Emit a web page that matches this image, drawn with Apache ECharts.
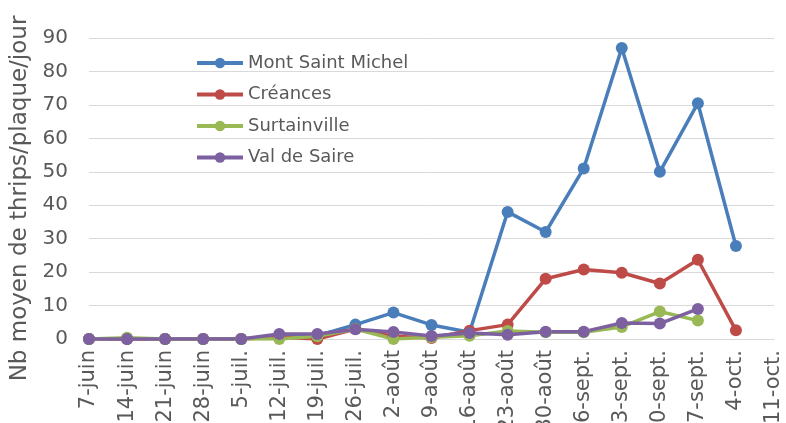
<!DOCTYPE html>
<html><head><meta charset="utf-8">
<script src="https://cdn.jsdelivr.net/npm/echarts@6/dist/echarts.min.js"></script>
<style>html,body{margin:0;padding:0;background:#fff}#c{width:786px;height:423px}</style>
</head><body><div id="c"></div>
<script>
const categories = ['7-juin','14-juin','21-juin','28-juin','5-juil.','12-juil.','19-juil.','26-juil.','2-août','9-août','16-août','23-août','30-août','6-sept.','13-sept.','20-sept.','27-sept.','4-oct.','11-oct.'];
const montSaintMichel = [0,0,0,0,0,1,1,4.3,7.9,4.2,2,38,32,51,87,50,70.5,27.8,null];
const creances = [0,0,0,0,0,0.5,0,3,0.8,0.3,2.5,4.3,18,20.8,19.8,16.6,23.7,2.6,null];
const surtainville = [0,0.4,0,0,0,0,0.8,3,0,0.5,1,2.4,2,2,3.6,8.2,5.5,null,null];
const valDeSaire = [0,0,0,0,0,1.5,1.5,2.9,2.1,0.9,1.8,1.3,2.2,2.2,4.8,4.6,9,null,null];
const yTicks = {min:0, max:90, interval:10};

const colors = ['#4A7EBB','#BE4B48','#98B954','#7D60A0'];
const names = ['Mont Saint Michel','Créances','Surtainville','Val de Saire'];
const datas = [montSaintMichel, creances, surtainville, valDeSaire];
const txt = '#595959';
const font = 'DejaVu Sans';

const chart = echarts.init(document.getElementById('c'));
chart.setOption({
  animation:false,
  color: colors,
  textStyle:{fontFamily:font},
  grid:{left:89, right:12, top:38, bottom:84, containLabel:false, outerBoundsMode:'none'},
  legend:{
    orient:'vertical', left:190, top:49,
    itemWidth:46, itemHeight:13, itemGap:13.5,
    lineStyle:{width:4},
    textStyle:{color:txt, fontSize:18, fontFamily:font},
    data:names
  },
  xAxis:{
    type:'category', data:categories, boundaryGap:false,
    axisLine:{show:true, lineStyle:{color:'#d9d9d9', width:1}},
    axisTick:{show:false},
    axisLabel:{rotate:90, color:txt, fontSize:21, fontFamily:font, margin:11, interval:0},
    splitLine:{show:false}
  },
  yAxis:{
    type:'value', min:yTicks.min, max:yTicks.max, interval:yTicks.interval,
    name:'Nb moyen de thrips/plaque/jour', nameLocation:'middle', nameGap:57,
    nameTextStyle:{color:txt, fontSize:23, fontFamily:font, padding:[0,20,0,0]},
    axisLine:{show:false}, axisTick:{show:false},
    axisLabel:{color:txt, fontSize:20, fontFamily:font, margin:21},
    splitLine:{lineStyle:{color:'#d9d9d9', width:1}}
  },
  series: names.map((n,i)=>({
    name:n, type:'line', data:datas[i],
    symbol:'circle', symbolSize:12,
    lineStyle:{width:3.5, color:colors[i]},
    itemStyle:{color:colors[i]},
    connectNulls:false
  }))
});
</script></body></html>
